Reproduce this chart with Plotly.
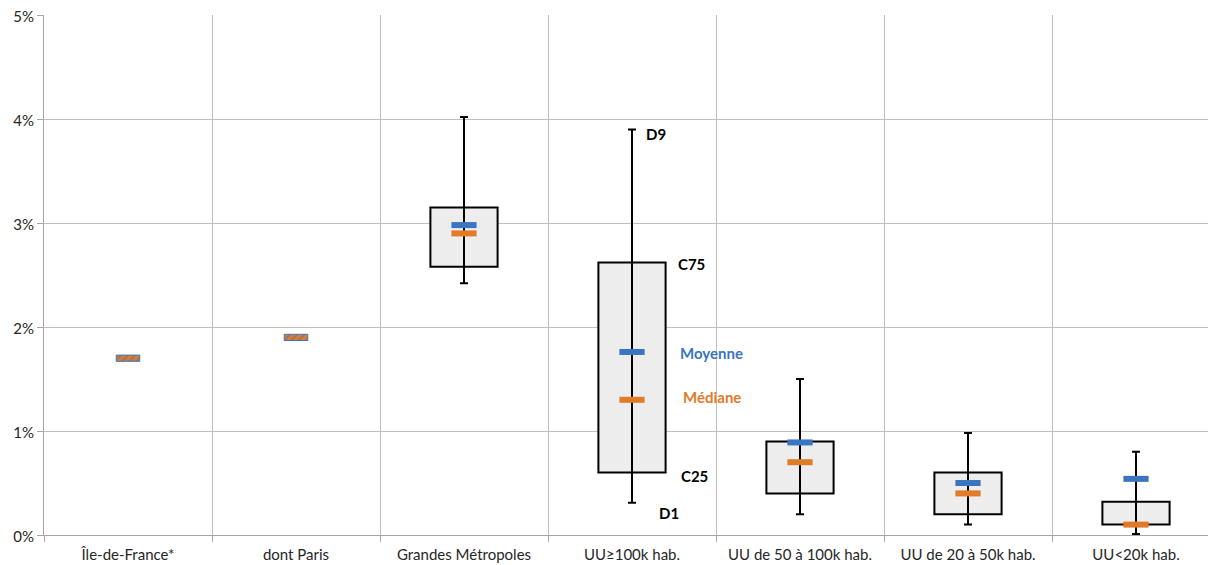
import plotly.graph_objects as go

categories = ["Île-de-France*", "dont Paris", "Grandes Métropoles", "UU≥100k hab.",
              "UU de 50 à 100k hab.", "UU de 20 à 50k hab.", "UU<20k hab."]
d1 = [None, None, 2.42, 0.31, 0.20, 0.10, 0.01]
c25 = [None, None, 2.58, 0.60, 0.40, 0.20, 0.10]
c75 = [None, None, 3.15, 2.62, 0.90, 0.60, 0.32]
d9 = [None, None, 4.02, 3.90, 1.50, 0.98, 0.80]
moyenne = [1.70, 1.90, 2.98, 1.76, 0.89, 0.50, 0.54]
mediane = [1.70, 1.90, 2.90, 1.30, 0.70, 0.40, 0.10]
y_ticks = [0, 1, 2, 3, 4, 5]
y_ticktext = [f"{v}%" for v in y_ticks]

BLUE = "#3A75C0"
ORANGE = "#E07B28"
FONT = "Lato"

fig = go.Figure()

# boxes C25-C75
bx = [c for c, a, b in zip(categories, c25, c75) if a is not None]
bbase = [a for a in c25 if a is not None]
bh = [b - a for a, b in zip(c25, c75) if a is not None]
fig.add_trace(go.Bar(x=bx, y=bh, base=bbase, width=0.4,
                     marker=dict(color="#EDEDED", line=dict(color="black", width=2)),
                     showlegend=False, hoverinfo="skip"))

# single-value categories (mean = median) shown as hatched marks
HALF = 0.03
sx = [c for c, a in zip(categories, c25) if a is None]
sy = [m for m, a in zip(moyenne, c25) if a is None]
fig.add_trace(go.Bar(x=sx, y=[2 * HALF] * len(sx), base=[v - HALF for v in sy], width=0.14,
                     marker=dict(color=ORANGE, line=dict(color=BLUE, width=1),
                                 pattern=dict(shape="/", fgcolor=BLUE, size=5, solidity=0.35)),
                     showlegend=False, hoverinfo="skip"))

# whiskers D1-D9
wx = [c for c, a in zip(categories, d1) if a is not None]
wy = [a for a in d1 if a is not None]
wlen = [b - a for a, b in zip(d1, d9) if a is not None]
fig.add_trace(go.Scatter(x=wx, y=wy, mode="markers", marker=dict(size=1, color="rgba(0,0,0,0)"),
                         error_y=dict(type="data", array=wlen, arrayminus=[0] * len(wlen),
                                      color="black", thickness=2, width=4),
                         showlegend=False, hoverinfo="skip"))

# mean / median marks
mx = [c for c, a in zip(categories, c25) if a is not None]
fig.add_trace(go.Scatter(x=mx, y=[v for v, a in zip(mediane, c25) if a is not None], mode="markers",
                         marker=dict(symbol="line-ew", size=18, line=dict(color=ORANGE, width=6)),
                         showlegend=False, hoverinfo="skip"))
fig.add_trace(go.Scatter(x=mx, y=[v for v, a in zip(moyenne, c25) if a is not None], mode="markers",
                         marker=dict(symbol="line-ew", size=18, line=dict(color=BLUE, width=6)),
                         showlegend=False, hoverinfo="skip"))

# labels on the UU≥100k box (xs: px right of centre, ys: px below value)
i = 3
labels = [("D9", d9[i], "black", 12, 5), ("C75", c75[i], "black", 44, 1),
          ("Moyenne", moyenne[i], BLUE, 46, 1), ("Médiane", mediane[i], ORANGE, 49, -3),
          ("C25", c25[i], "black", 47, 3), ("D1", d1[i], "black", 25, 10)]
for txt, yv, col, xs, ys in labels:
    fig.add_annotation(x=i, y=yv, xref="x", yref="y", text=f"<b>{txt}</b>", showarrow=False,
                       xanchor="left", xshift=xs, yshift=-ys,
                       font=dict(family=FONT, size=15, color=col))

fig.update_layout(
    width=1216, height=565, barmode="overlay",
    margin=dict(l=36, r=4, t=7, b=38, autoexpand=False),
    plot_bgcolor="white", paper_bgcolor="white",
    font=dict(family=FONT, size=15, color="#262626"),
    xaxis=dict(type="category", categoryorder="array", categoryarray=categories,
               range=[-0.5, len(categories) - 0.5], automargin=False,
               tickson="boundaries", ticks="outside", ticklen=6, tickcolor="#A6A6A6",
               ticklabelstandoff=6,
               tickfont=dict(family=FONT, size=15, color="#262626"),
               showgrid=True, gridcolor="#BFBFBF", gridwidth=1,
               showline=True, linecolor="#A6A6A6", linewidth=1, zeroline=False),
    yaxis=dict(range=[0, 5], tickmode="array", tickvals=y_ticks, ticktext=y_ticktext,
               automargin=False, ticklabelshift=2,
               ticks="outside", ticklen=6, ticklabeloverflow="allow",
               tickfont=dict(family=FONT, size=15, color="#262626"),
               tickcolor="#A6A6A6", showgrid=True, gridcolor="#BFBFBF", gridwidth=1,
               showline=True, linecolor="#A6A6A6", linewidth=1, zeroline=False),
)

fig.write_html("out.html")
